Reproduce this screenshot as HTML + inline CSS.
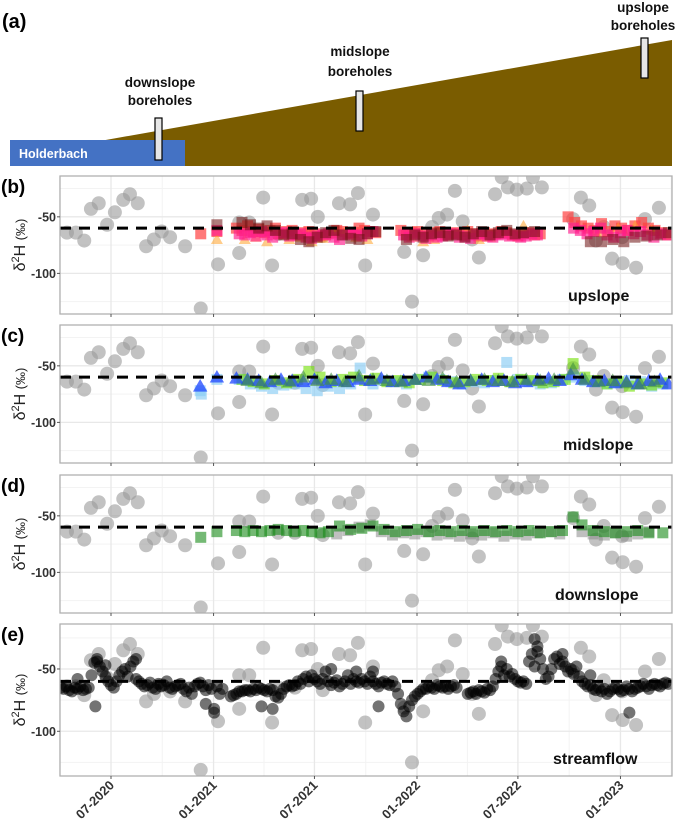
<!DOCTYPE html>
<html><head><meta charset="utf-8">
<style>
html,body{margin:0;padding:0;background:#fff;}
svg{display:block;font-family:"Liberation Sans",sans-serif;}
</style></head>
<body>
<svg id="fig" width="675" height="826" viewBox="0 0 675 826" xmlns="http://www.w3.org/2000/svg">
  <g>
    <text x="2" y="28" font-size="20" font-weight="bold">(a)</text>
    <polygon points="100,141 672,40 672,166 100,166" fill="#7a5c00"/>
    <rect x="10" y="140" width="175" height="26" fill="#4472c4"/>
    <text x="19" y="158" font-size="12.5" font-weight="bold" fill="#fff">Holderbach</text>
    <rect x="155" y="118" width="7" height="42" fill="#e6e6e6" stroke="#000" stroke-width="1.2"/>
    <rect x="356" y="91" width="7" height="40" fill="#e6e6e6" stroke="#000" stroke-width="1.2"/>
    <rect x="641" y="38" width="7" height="40" fill="#e6e6e6" stroke="#000" stroke-width="1.2"/>
    <g font-size="13.5" font-weight="bold" text-anchor="middle" fill="#111">
      <text x="160" y="87">downslope</text>
      <text x="160" y="105">boreholes</text>
      <text x="360" y="56">midslope</text>
      <text x="360" y="76">boreholes</text>
      <text x="643" y="12">upslope</text>
      <text x="643" y="30">boreholes</text>
    </g>
  </g>
</svg>
<script>
// ---- data (days since 2020-07-01, δ2H ‰) ----
const xTickDays = [0,184,365,549,730,914];
const xTickLabels = ["07-2020","01-2021","07-2021","01-2022","07-2022","01-2023"];
const yTickVals = [-50,-100];
const yTickLabels = ["-50","-100"];
const refLine = -60;
const precip = [[-79,-64],[-63,-64],[-48,-71],[-36,-43],[-22,-38],[-7,-57],[7,-46],[22,-35],[34,-30],[48,-38],[63,-76],[77,-70],[91,-63],[106,-68],[133,-76],[161,-131],[192,-92],[230,-82],[230,-55],[248,-55],[273,-33],[289,-93],[300,-65],[330,-65],[343,-35],[359,-34],[371,-50],[380,-67],[409,-38],[429,-39],[443,-29],[456,-93],[470,-48],[526,-81],[540,-125],[560,-84],[576,-59],[588,-51],[603,-48],[617,-27],[631,-54],[648,-70],[660,-86],[689,-30],[701,-15],[712,-24],[728,-26],[746,-25],[757,-15],[773,-24],[829,-52],[843,-33],[858,-40],[870,-71],[884,-59],[899,-87],[917,-68],[918,-91],[942,-95],[958,-52],[983,-42]];
const upRed = [[161,-65],[190,-63],[225,-60],[235,-62],[245,-58],[255,-63],[265,-61],[275,-64],[285,-62],[295,-60],[305,-65],[315,-63],[325,-62],[335,-66],[345,-64],[355,-63],[365,-65],[375,-67],[385,-66],[395,-64],[405,-62],[415,-63],[425,-65],[435,-64],[445,-60],[455,-62],[465,-63],[475,-64],[520,-62],[530,-66],[540,-64],[550,-63],[560,-65],[570,-67],[580,-64],[590,-63],[600,-66],[610,-65],[620,-64],[630,-66],[640,-63],[650,-65],[660,-67],[670,-64],[680,-66],[690,-65],[700,-63],[710,-64],[720,-66],[730,-67],[740,-65],[750,-64],[760,-66],[770,-65],[820,-50],[832,-55],[844,-58],[856,-60],[868,-62],[880,-56],[892,-63],[904,-58],[916,-60],[928,-62],[940,-58],[952,-55],[964,-60],[976,-62],[988,-64],[1000,-66]];
const upPink = [[190,-62],[230,-65],[240,-66],[250,-64],[260,-67],[270,-63],[280,-66],[290,-68],[300,-65],[310,-64],[320,-67],[330,-66],[340,-65],[350,-68],[360,-69],[370,-67],[380,-66],[390,-65],[400,-68],[410,-70],[420,-66],[430,-64],[440,-66],[450,-67],[460,-65],[470,-63],[525,-66],[535,-68],[545,-65],[555,-67],[565,-69],[575,-66],[585,-68],[595,-67],[605,-66],[615,-65],[625,-68],[635,-67],[645,-69],[655,-66],[665,-65],[675,-67],[685,-68],[695,-66],[705,-65],[715,-67],[725,-66],[735,-68],[745,-67],[755,-65],[765,-66],[830,-60],[842,-62],[854,-65],[866,-63],[878,-60],[890,-66],[902,-68],[914,-64],[926,-62],[938,-65],[950,-63],[962,-66],[974,-68],[986,-65],[998,-66]];
const upDark = [[190,-57],[235,-55],[250,-57],[265,-60],[280,-58],[295,-62],[310,-66],[325,-65],[340,-70],[355,-72],[370,-68],[385,-64],[400,-62],[415,-66],[430,-69],[445,-70],[460,-65],[475,-63],[530,-70],[545,-66],[560,-68],[575,-65],[590,-64],[605,-67],[620,-66],[635,-68],[650,-65],[665,-63],[680,-66],[695,-64],[710,-62],[725,-65],[740,-64],[760,-63],[860,-72],[880,-72],[900,-70],[920,-72],[940,-68],[960,-67],[980,-66],[1000,-64]];
const upOrange = [[190,-70],[240,-70],[260,-68],[280,-72],[300,-66],[320,-70],[340,-68],[360,-72],[380,-69],[400,-65],[420,-64],[440,-68],[460,-70],[540,-68],[560,-72],[580,-70],[600,-66],[620,-65],[640,-62],[660,-70],[680,-68],[700,-64],[720,-66],[740,-58],[760,-66],[880,-64],[910,-60],[940,-58],[970,-62],[1000,-66]];
const midBlue = [[160,-68],[190,-60],[225,-61],[245,-62],[265,-63],[285,-64],[305,-62],[325,-63],[345,-64],[365,-62],[385,-65],[405,-63],[425,-64],[445,-62],[465,-63],[485,-61],[505,-64],[525,-63],[545,-62],[565,-60],[585,-62],[605,-64],[625,-66],[645,-63],[665,-62],[685,-64],[705,-63],[725,-65],[745,-64],[765,-62],[785,-61],[805,-63],[825,-58],[845,-62],[865,-64],[885,-63],[905,-65],[925,-64],[945,-66],[965,-63],[985,-62],[1000,-66]];
const midLight = [[160,-72],[162,-75],[190,-62],[230,-62],[250,-66],[270,-68],[290,-70],[310,-67],[330,-66],[350,-70],[370,-72],[390,-68],[410,-70],[430,-66],[447,-52],[470,-66],[490,-63],[510,-64],[530,-66],[550,-62],[570,-60],[590,-62],[610,-64],[630,-66],[650,-64],[670,-65],[690,-63],[710,-47],[730,-62],[750,-64],[770,-66],[790,-65],[810,-62],[830,-60],[850,-63],[870,-64],[890,-66],[910,-65],[930,-63],[950,-64],[970,-68],[990,-66]];
const midGreen = [[235,-62],[255,-64],[275,-66],[295,-63],[315,-65],[335,-62],[355,-55],[375,-60],[395,-64],[415,-62],[435,-60],[455,-63],[475,-61],[495,-64],[515,-63],[535,-65],[555,-62],[575,-60],[595,-63],[615,-65],[635,-64],[655,-62],[675,-63],[695,-61],[715,-64],[735,-62],[755,-63],[775,-65],[795,-64],[815,-62],[829,-48],[850,-60],[870,-63],[890,-66],[910,-64],[930,-68],[950,-66],[970,-67],[990,-65]];
const midDkGreen = [[245,-63],[270,-65],[295,-62],[320,-64],[345,-60],[370,-63],[395,-62],[420,-64],[445,-59],[470,-62],[495,-63],[520,-64],[545,-62],[570,-63],[595,-61],[620,-64],[645,-63],[670,-62],[695,-63],[720,-64],[745,-62],[770,-63],[795,-62],[829,-53],[850,-62],[875,-64],[900,-63],[925,-65],[950,-66],[975,-64]];
const downGreen = [[161,-69],[190,-64],[225,-63],[240,-64],[255,-63],[270,-64],[285,-63],[300,-62],[315,-63],[330,-64],[345,-63],[360,-64],[375,-65],[390,-64],[410,-59],[430,-62],[450,-61],[470,-59],[490,-62],[510,-64],[530,-63],[550,-62],[570,-64],[590,-63],[610,-64],[630,-63],[650,-64],[670,-63],[690,-64],[710,-63],[730,-64],[750,-63],[770,-65],[790,-64],[810,-63],[829,-51],[845,-58],[865,-63],[885,-64],[905,-65],[925,-64],[945,-63],[965,-65],[990,-65]];
const downGrey = [[405,-66],[425,-63],[445,-60],[465,-58],[485,-64],[505,-67],[525,-65],[545,-66],[565,-64],[585,-67],[605,-66],[625,-68],[645,-66],[665,-67],[685,-65],[705,-68],[725,-66],[745,-67],[765,-65],[785,-64],[805,-66],[845,-64],[865,-66],[885,-67],[905,-65],[925,-68],[945,-66],[965,-64]];
const streamDays = [-90,-85,-80,-75,-70,-65,-60,-55,-50,-45,-40,-35,-30,-25,-20,-15,-10,-5,0,5,10,15,20,25,30,35,40,45,50,55,60,65,70,75,80,85,90,95,100,105,110,115,120,125,130,135,140,145,150,155,160,165,170,175,180,185,190,195,200,215,220,225,230,235,240,245,250,255,260,265,270,275,280,285,290,295,300,305,310,315,320,325,330,335,340,345,350,355,360,365,370,375,380,385,390,395,400,405,410,415,420,425,430,435,440,445,450,455,460,465,470,475,480,485,490,495,500,505,510,515,520,525,530,535,540,545,550,555,560,565,570,575,580,585,590,595,600,605,610,615,620,640,645,650,655,660,665,670,675,680,685,690,695,700,705,710,715,720,725,730,735,740,745,750,755,760,765,770,775,780,785,790,795,800,805,810,815,820,825,830,835,840,845,850,855,860,865,870,875,880,885,890,895,900,905,910,915,920,925,930,935,940,945,950,955,960,965,970,975,980,985,990,995,1000,-28,-25,45,-10,170,185,270,290,440,470,480,700,760,765,810,930,860,-60,395];
const streamVals = [-65,-66,-64,-67,-68,-65,-66,-64,-67,-66,-65,-55,-45,-42,-48,-52,-56,-60,-63,-65,-60,-55,-52,-50,-56,-48,-44,-58,-60,-62,-64,-63,-61,-65,-66,-62,-64,-63,-60,-65,-66,-64,-63,-62,-66,-68,-65,-70,-64,-62,-61,-64,-67,-63,-66,-82,-64,-70,-66,-72,-71,-70,-68,-68,-67,-67,-68,-66,-67,-65,-66,-67,-68,-66,-67,-72,-73,-70,-66,-64,-63,-64,-63,-60,-62,-58,-56,-60,-55,-58,-60,-62,-58,-52,-60,-63,-61,-59,-64,-62,-60,-55,-62,-58,-60,-61,-58,-60,-62,-56,-60,-62,-64,-61,-60,-62,-63,-60,-64,-70,-78,-84,-88,-80,-75,-72,-70,-68,-66,-66,-64,-65,-66,-63,-64,-65,-64,-66,-64,-63,-65,-70,-69,-68,-70,-67,-68,-69,-66,-67,-64,-58,-52,-48,-55,-50,-56,-54,-58,-60,-61,-60,-62,-44,-38,-48,-36,-42,-50,-58,-56,-50,-42,-40,-46,-44,-48,-52,-50,-54,-48,-56,-60,-62,-64,-63,-66,-67,-65,-68,-66,-70,-68,-66,-65,-66,-68,-67,-64,-66,-68,-66,-65,-64,-62,-64,-66,-63,-62,-63,-64,-62,-61,-62,-80,-44,-42,-47,-78,-85,-80,-82,-52,-52,-80,-44,-26,-32,-38,-85,-55,-58,-50];

// ---- layout ----
const NS = "http://www.w3.org/2000/svg";
const svg = document.getElementById("fig");
const X0 = 60, X1 = 672;
const yMax = -13.9, yMin = -135.9;
function xs(d){ return 111 + d*0.5574; }
const panels = [
  {key:"b", top:176, bot:314, label:"(b)", name:"upslope", lx:568, ly:301},
  {key:"c", top:325, bot:463, label:"(c)", name:"midslope", lx:563, ly:450},
  {key:"d", top:475, bot:613, label:"(d)", name:"downslope", lx:555, ly:600},
  {key:"e", top:624, bot:776, label:"(e)", name:"streamflow", lx:553, ly:764}
];
function mk(tag, attrs, parent){
  const el = document.createElementNS(NS, tag);
  for (const k in attrs) el.setAttribute(k, attrs[k]);
  (parent||svg).appendChild(el);
  return el;
}
function ysFor(p){ return v => p.top + (yMax - v)/(yMax - yMin)*(p.bot - p.top); }

function circles(g, data, ys, r, fill, op, nm){
  data.forEach(pt => {
    const c = mk("circle", {cx: xs(pt[0]), cy: ys(pt[1]), r: r, fill: fill, "fill-opacity": op}, g);
    
    
  });
}
function squares(g, data, ys, s, fill, op, nm){
  data.forEach(pt => {
    const c = mk("rect", {x: xs(pt[0]) - s/2, y: ys(pt[1]) - s/2, width: s, height: s, fill: fill, "fill-opacity": op}, g);
    
    
  });
}
function triangles(g, data, ys, s, fill, op, nm){
  data.forEach(pt => {
    const x = xs(pt[0]), y = ys(pt[1]);
    const c = mk("polygon", {points: `${x},${y-s*0.6} ${x-s*0.6},${y+s*0.45} ${x+s*0.6},${y+s*0.45}`, fill: fill, "fill-opacity": op}, g);
    
    
  });
}

panels.forEach(p => {
  const ys = ysFor(p);
  const g = mk("g", {});
  
  
  const clipId = "clip" + p.key;
  const cp = mk("clipPath", {id: clipId}, g);
  mk("rect", {x: X0, y: p.top, width: X1 - X0, height: p.bot - p.top}, cp);
  const grid = mk("g", {}, g);
  
  
  [-25,-75,-125].forEach(v => mk("line", {x1: X0, x2: X1, y1: ys(v), y2: ys(v), stroke: "#f3f3f3", "stroke-width": 1}, grid));
  const minorDays = [-92,92,274.5,457,639.5,822,1005];
  minorDays.forEach(d => mk("line", {x1: xs(d), x2: xs(d), y1: p.top, y2: p.bot, stroke: "#f3f3f3", "stroke-width": 1}, grid));
  yTickVals.forEach(v => mk("line", {x1: X0, x2: X1, y1: ys(v), y2: ys(v), stroke: "#e8e8e8", "stroke-width": 1.3}, grid));
  xTickDays.forEach(d => mk("line", {x1: xs(d), x2: xs(d), y1: p.top, y2: p.bot, stroke: "#e8e8e8", "stroke-width": 1.3}, grid));

  const dg = mk("g", {"clip-path": `url(#${clipId})`}, g);
  
  
  circles(dg, precip, ys, 7, "#9a9a9a", 0.6, "precipitation-point");
  if (p.key === "b"){
    squares(dg, upRed, ys, 11, "#ff4040", 0.7, "upslope-red-square");
    triangles(dg, upOrange, ys, 10, "#ffa32a", 0.55, "upslope-orange-triangle");
    squares(dg, upPink, ys, 11, "#ff1a8c", 0.65, "upslope-pink-square");
    squares(dg, upDark, ys, 11, "#6e1010", 0.55, "upslope-darkred-square");
  } else if (p.key === "c"){
    squares(dg, midLight, ys, 11, "#88ccf5", 0.65, "midslope-lightblue-square");
    squares(dg, midGreen, ys, 11, "#6fe000", 0.6, "midslope-green-square");
    triangles(dg, midBlue, ys, 12, "#1f45ff", 0.75, "midslope-blue-triangle");
    triangles(dg, midDkGreen, ys, 12, "#3f8f3f", 0.6, "midslope-darkgreen-triangle");
  } else if (p.key === "d"){
    squares(dg, downGrey, ys, 11, "#8a8a8a", 0.55, "downslope-grey-square");
    squares(dg, downGreen, ys, 11, "#178a17", 0.6, "downslope-green-square");
  } else {
    const sd = streamDays.map((d,i) => [d, streamVals[i]]);
    circles(dg, sd, ys, 6, "#000", 0.55, "streamflow-point");
  }
  const ref = mk("line", {x1: X0, x2: X1, y1: ys(refLine), y2: ys(refLine), stroke: "#000", "stroke-width": 3, "stroke-dasharray": "11 8"}, dg);
  
  
  const fr = mk("rect", {x: X0, y: p.top, width: X1 - X0, height: p.bot - p.top, fill: "none", stroke: "#b0b0b0", "stroke-width": 1.3}, g);
  
  
  yTickVals.forEach((v, i) => {
    mk("line", {x1: X0 - 3, x2: X0, y1: ys(v), y2: ys(v), stroke: "#555", "stroke-width": 1}, g);
    const t = mk("text", {x: X0 - 4, y: ys(v) + 4.5, "font-size": 12.5, "font-weight": "bold", "text-anchor": "end", fill: "#333"}, g);
    t.textContent = yTickLabels[i];
    
    
  });
  xTickDays.forEach(d => mk("line", {x1: xs(d), x2: xs(d), y1: p.bot, y2: p.bot + 3, stroke: "#555", "stroke-width": 1}, g));
  const cy = (p.top + p.bot) / 2;
  const yt = mk("text", {x: 0, y: 0, transform: `translate(25 ${cy}) rotate(-90)`, "font-size": 16, "text-anchor": "middle", fill: "#222"}, g);
  yt.innerHTML = 'δ<tspan baseline-shift="super" font-size="11">2</tspan>H <tspan font-size="13">(‰)</tspan>';
  
  
  const pl = mk("text", {x: 1, y: p.top + 17, "font-size": 19, "font-weight": "bold"}, g);
  pl.textContent = p.label;
  
  
  const nl = mk("text", {x: p.lx, y: p.ly, "font-size": 16, "font-weight": "bold", fill: "#111"}, g);
  nl.textContent = p.name;
  
  
});

xTickDays.forEach((d, i) => {
  const x = xs(d) + 4, y = 786;
  const t = mk("text", {x: 0, y: 0, transform: `translate(${x} ${y}) rotate(-45)`, "font-size": 13, "font-weight": "bold", "text-anchor": "end", fill: "#333"});
  t.textContent = xTickLabels[i];
  
  
});
</script>
</body></html>
